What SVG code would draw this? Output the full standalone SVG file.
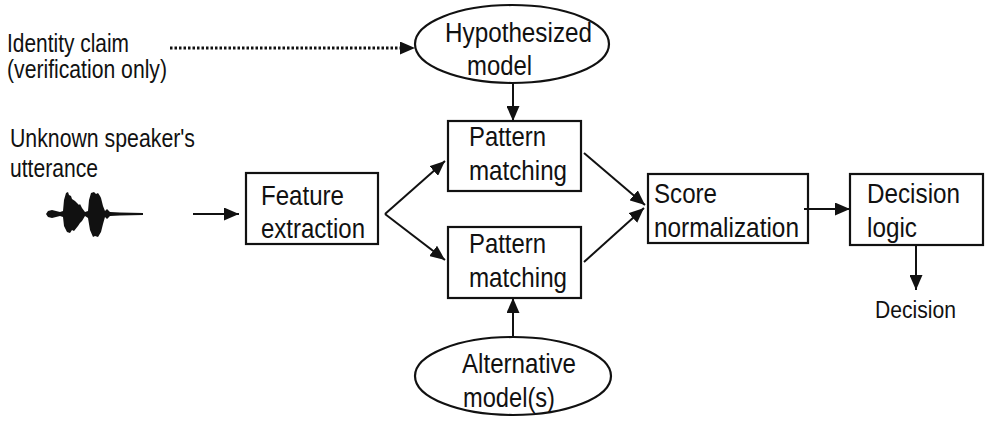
<svg xmlns="http://www.w3.org/2000/svg" width="993" height="424" viewBox="0 0 993 424">
<style>
.t{font-family:"Liberation Sans",Arial,sans-serif;font-size:27.5px;fill:#111}
.s{font-family:"Liberation Sans",Arial,sans-serif;font-size:25px;fill:#111}
.d{font-family:"Liberation Sans",Arial,sans-serif;font-size:23px;fill:#111}
.box{fill:#fff;stroke:#111;stroke-width:2.2}
.ell{fill:#fff;stroke:#111;stroke-width:2.2}
.c{fill:none;stroke:#111;stroke-width:2}
.dot{fill:none;stroke:#111;stroke-width:3;stroke-dasharray:2.5 2}
</style>
<defs>
<marker id="ah" markerUnits="userSpaceOnUse" markerWidth="15" markerHeight="13" refX="15" refY="6.5" orient="auto">
<path d="M0,0 L15,6.5 L0,13 z" fill="#111"/>
</marker>
</defs>
<rect width="993" height="424" fill="#fff"/>

<g id="identity-claim">
<text class="s" x="7" y="52" textLength="122" lengthAdjust="spacingAndGlyphs">Identity claim</text>
<text class="s" x="7" y="78" textLength="160" lengthAdjust="spacingAndGlyphs">(verification only)</text>
</g>

<g id="utterance">
<text class="s" x="10" y="147" textLength="185" lengthAdjust="spacingAndGlyphs">Unknown speaker's</text>
<text class="s" x="10" y="177" textLength="88" lengthAdjust="spacingAndGlyphs">utterance</text>
<path fill="#111" d="M46,214 L48,211 L52,210 L56,211 L60,212 L63,211 L64,200 L66,193 L68,192 L69,195 L71,196 L72,199 L75,201 L77,203 L79,205 L80,204 L82,208 L85,212 L88,211 L89,200 L91,193 L94,192 L96,194 L98,193 L100,196 L101,198 L102,202 L103,206 L105,211 L107,209 L110,212 L120,212.5 L143,213 L143,215 L120,215.5 L110,216 L107,219 L105,217 L103,224 L102,228 L101,232 L98,237 L95,236 L93,237 L90,230 L88,218 L85,216 L82,221 L80,223 L78,226 L74,231 L72,230 L70,233 L67,232 L64,226 L63,217 L60,216 L56,217 L52,218 L48,217 z"/>
</g>

<g id="feature-extraction">
<rect class="box" x="246" y="173" width="132" height="71"/>
<text class="t" x="261" y="205" textLength="83" lengthAdjust="spacingAndGlyphs">Feature</text>
<text class="t" x="261" y="238" textLength="104" lengthAdjust="spacingAndGlyphs">extraction</text>
</g>

<g id="hypothesized-model">
<ellipse class="ell" cx="512" cy="44" rx="97" ry="39"/>
<text class="t" x="445" y="42" textLength="147" lengthAdjust="spacingAndGlyphs">Hypothesized</text>
<text class="t" x="467" y="75" textLength="65" lengthAdjust="spacingAndGlyphs">model</text>
</g>

<g id="pattern-matching-1">
<rect class="box" x="448" y="121" width="133" height="70"/>
<text class="t" x="469" y="146" textLength="77" lengthAdjust="spacingAndGlyphs">Pattern</text>
<text class="t" x="469" y="180" textLength="98" lengthAdjust="spacingAndGlyphs">matching</text>
</g>

<g id="pattern-matching-2">
<rect class="box" x="448" y="227" width="133" height="71"/>
<text class="t" x="469" y="253" textLength="77" lengthAdjust="spacingAndGlyphs">Pattern</text>
<text class="t" x="469" y="287" textLength="98" lengthAdjust="spacingAndGlyphs">matching</text>
</g>

<g id="alternative-models">
<ellipse class="ell" cx="513" cy="376" rx="98" ry="39"/>
<text class="t" x="462" y="373" textLength="114" lengthAdjust="spacingAndGlyphs">Alternative</text>
<text class="t" x="463" y="407" textLength="92" lengthAdjust="spacingAndGlyphs">model(s)</text>
</g>

<g id="score-normalization">
<rect class="box" x="648" y="174" width="160" height="69"/>
<text class="t" x="654" y="203" textLength="63" lengthAdjust="spacingAndGlyphs">Score</text>
<text class="t" x="654" y="237" textLength="145" lengthAdjust="spacingAndGlyphs">normalization</text>
</g>

<g id="decision-logic">
<rect class="box" x="850" y="174" width="133" height="71"/>
<text class="t" x="867" y="203" textLength="93" lengthAdjust="spacingAndGlyphs">Decision</text>
<text class="t" x="867" y="237" textLength="50" lengthAdjust="spacingAndGlyphs">logic</text>
</g>

<g id="decision-output">
<text class="d" x="875" y="318" textLength="81" lengthAdjust="spacingAndGlyphs">Decision</text>
</g>

<g id="connectors">
<path class="dot" d="M170,48 L403,48"/>
<path d="M400,48 L415,48" marker-end="url(#ah)" fill="none" stroke="#111" stroke-width="0"/>
<path class="c" d="M193,214 L239,214" marker-end="url(#ah)"/>
<path class="c" d="M385,214 L445,161" marker-end="url(#ah)"/>
<path class="c" d="M385,214 L445,260" marker-end="url(#ah)"/>
<path class="c" d="M513,83 L513,121" marker-end="url(#ah)"/>
<path class="c" d="M513,337 L513,298" marker-end="url(#ah)"/>
<path class="c" d="M584,153 L645,205" marker-end="url(#ah)"/>
<path class="c" d="M584,262 L644,208" marker-end="url(#ah)"/>
<path class="c" d="M804,209 L850,209" marker-end="url(#ah)"/>
<path class="c" d="M916,245 L916,290" marker-end="url(#ah)"/>
</g>
</svg>
